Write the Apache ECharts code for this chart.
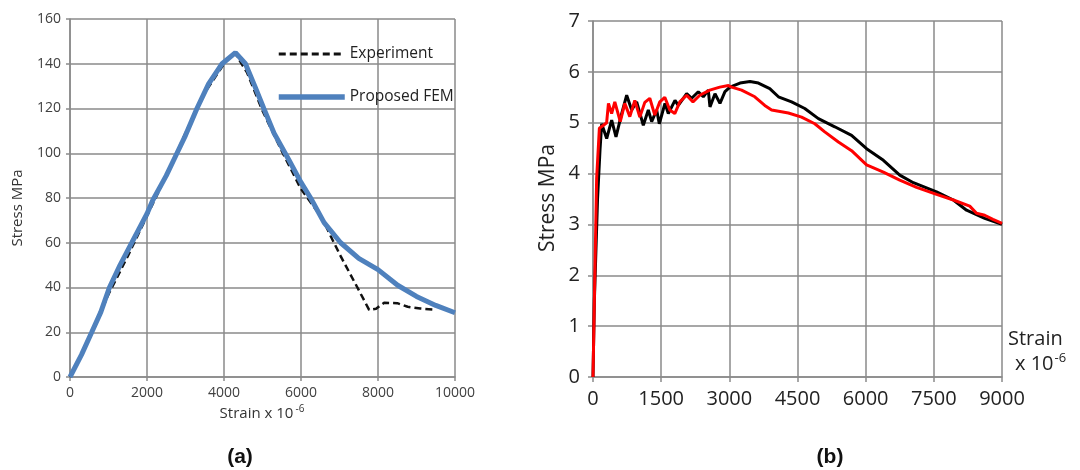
<!DOCTYPE html>
<html>
<head>
<meta charset="utf-8">
<title>Stress-strain</title>
<script src="https://cdn.jsdelivr.net/npm/echarts@6/dist/echarts.min.js"></script>
<style>
  html, body { margin: 0; padding: 0; background: #fff; }
  #main { width: 1080px; height: 470px; }
</style>
</head>
<body>
<div id="main"></div>
<script>
// (a) strain x 1e-6 / stress MPa
var expStrain = [0, 500, 1000, 1500, 2000, 2500, 3000, 3500, 4000, 4280, 4600, 5000, 5500, 6000, 6550, 6770, 7030, 7465, 7770, 7950, 8160, 8500, 8770, 9100, 9420];
var expStress = [0, 17, 37, 54, 72, 90, 109, 127, 140, 145, 136, 119, 101, 84, 71, 63, 54, 40, 30, 30.5, 33.2, 33, 31.4, 30.6, 30.2];
var femStrain = [0, 300, 564, 800, 1024, 1300, 1605, 2000, 2150, 2500, 2778, 3000, 3297, 3600, 3950, 4297, 4557, 4800, 5034, 5300, 5686, 6000, 6250, 6600, 7030, 7500, 8000, 8510, 9000, 9500, 10000];
var femStress = [0, 10, 20, 29, 40, 50, 60, 73, 79, 90, 100, 108, 120, 131, 140, 145, 140, 130, 120, 109, 97, 87, 80, 69, 60, 53, 48, 41, 36, 32, 28.7];

// (b)
var blackStrain = [0, 30, 100, 154, 191, 301, 411, 506, 631, 741, 851, 961, 1107, 1217, 1291, 1401, 1459, 1584, 1657, 1804, 1877, 2061, 2171, 2317, 2427, 2537, 2574, 2684, 2794, 2904, 3014, 3234, 3454, 3640, 3890, 4080, 4370, 4660, 4960, 5320, 5690, 6020, 6390, 6750, 7050, 7560, 7930, 8220, 8620, 9000];
var blackStress = [0, 1.5, 3.5, 4.46, 4.98, 4.69, 5.05, 4.72, 5.18, 5.54, 5.25, 5.41, 4.95, 5.25, 5.02, 5.25, 4.98, 5.38, 5.18, 5.44, 5.34, 5.57, 5.48, 5.61, 5.51, 5.64, 5.31, 5.57, 5.38, 5.61, 5.70, 5.78, 5.81, 5.78, 5.67, 5.51, 5.41, 5.28, 5.08, 4.92, 4.75, 4.49, 4.26, 3.97, 3.82, 3.64, 3.48, 3.28, 3.12, 3.0];
var redStrain = [0, 30, 80, 140, 230, 300, 340, 410, 480, 600, 700, 810, 920, 1030, 1140, 1250, 1360, 1470, 1580, 1690, 1800, 1910, 2060, 2200, 2350, 2570, 2790, 2980, 3050, 3270, 3560, 3780, 3930, 4300, 4590, 4880, 5100, 5400, 5690, 6020, 6390, 6750, 7120, 7560, 7930, 8290, 8440, 8620, 8800, 9000];
var redStress = [0, 1.5, 3.9, 4.89, 4.95, 5.0, 5.38, 5.18, 5.41, 5.02, 5.38, 5.12, 5.44, 5.11, 5.40, 5.48, 5.15, 5.41, 5.50, 5.25, 5.18, 5.41, 5.54, 5.41, 5.54, 5.64, 5.70, 5.73, 5.70, 5.64, 5.51, 5.34, 5.25, 5.19, 5.11, 4.98, 4.82, 4.62, 4.45, 4.17, 4.03, 3.87, 3.73, 3.59, 3.48, 3.36, 3.22, 3.18, 3.10, 3.02];

function pairs(xs, ys) {
  var out = [];
  for (var i = 0; i < xs.length; i++) out.push([xs[i], ys[i]]);
  return out;
}

var gridColor = '#8a8a8a';
var fontA = '"Open Sans", sans-serif';

function axisCommon(size, margin, color) {
  return {
    type: 'value',
    axisLine: { show: true, lineStyle: { color: gridColor, width: 1.5 } },
    axisTick: { show: true, length: 4, lineStyle: { color: gridColor, width: 1.5 } },
    splitLine: { show: true, lineStyle: { color: gridColor, width: 1.5 } },
    axisLabel: { fontFamily: fontA, fontSize: size, color: color, margin: margin,
      formatter: function (v) { return String(v); } }
  };
}

var xa = axisCommon(14, 9, '#404040');
xa.gridIndex = 0; xa.min = 0; xa.max = 10000; xa.interval = 2000;
var ya = axisCommon(14, 9, '#404040');
ya.gridIndex = 0; ya.min = 0; ya.max = 160; ya.interval = 20;
var xb = axisCommon(20, 12, '#222');
xb.gridIndex = 1; xb.min = 0; xb.max = 9000; xb.interval = 1500;
var yb = axisCommon(20, 13, '#222');
yb.gridIndex = 1; yb.min = 0; yb.max = 7; yb.interval = 1;
xb.axisTick.length = 5; yb.axisTick.length = 5;

var chart = echarts.init(document.getElementById('main'));
chart.setOption({
  animation: false,
  backgroundColor: '#fff',
  grid: [
    { left: 70, right: 625, top: 19, bottom: 93, containLabel: false },
    { left: 593, right: 78, top: 21, bottom: 93, containLabel: false }
  ],
  xAxis: [xa, xb],
  yAxis: [ya, yb],
  legend: {
    orient: 'vertical',
    left: 271, top: 41,
    itemWidth: 66, itemHeight: 14, itemGap: 27,
    itemStyle: { opacity: 0 },
    textStyle: { fontFamily: fontA, fontSize: 15.5, color: '#222' },
    data: [
      { name: 'Experiment', lineStyle: { color: '#111', width: 3, type: [7, 4] } },
      { name: 'Proposed FEM', lineStyle: { color: '#4f81bd', width: 5.5 } }
    ]
  },
  series: [
    {
      name: 'Experiment', type: 'line', xAxisIndex: 0, yAxisIndex: 0,
      symbol: 'none', data: pairs(expStrain, expStress),
      lineStyle: { color: '#111', width: 2.5, type: [7, 4] }, itemStyle: { color: '#111' }
    },
    {
      name: 'Proposed FEM', type: 'line', xAxisIndex: 0, yAxisIndex: 0,
      symbol: 'none', data: pairs(femStrain, femStress),
      lineStyle: { color: '#4f81bd', width: 5 }, itemStyle: { color: '#4f81bd' }
    },
    {
      name: 'black', type: 'line', xAxisIndex: 1, yAxisIndex: 1,
      symbol: 'none', data: pairs(blackStrain, blackStress),
      lineStyle: { color: '#000', width: 3 }
    },
    {
      name: 'red', type: 'line', xAxisIndex: 1, yAxisIndex: 1,
      symbol: 'none', data: pairs(redStrain, redStress),
      lineStyle: { color: '#ff0000', width: 3 }
    }
  ],
  graphic: [
    { type: 'text', x: 18, y: 208, rotation: Math.PI / 2,
      style: { text: 'Stress MPa', font: '15px ' + fontA, fill: '#333', align: 'center', verticalAlign: 'middle' } },
    { type: 'text', x: 262, y: 414,
      style: { text: '{b|Strain x 10}{s|-6}', align: 'center', verticalAlign: 'middle', fill: '#333',
        rich: { b: { fontFamily: fontA, fontSize: 15, lineHeight: 20 },
                s: { fontFamily: fontA, fontSize: 10, lineHeight: 20, padding: [0, 0, 9, 2] } } } },
    { type: 'text', x: 548, y: 198, rotation: Math.PI / 2,
      style: { text: 'Stress MPa', font: '21px ' + fontA, fill: '#222', align: 'center', verticalAlign: 'middle' } },
    { type: 'text', x: 1008, y: 339,
      style: { text: 'Strain', font: '20px ' + fontA, fill: '#222', align: 'left', verticalAlign: 'middle' } },
    { type: 'text', x: 1015, y: 364,
      style: { text: '{b|x 10}{s|-6}', align: 'left', verticalAlign: 'middle', fill: '#222',
        rich: { b: { fontFamily: fontA, fontSize: 20, lineHeight: 24 },
                s: { fontFamily: fontA, fontSize: 13, lineHeight: 24, padding: [0, 0, 12, 1] } } } },
    { type: 'text', x: 240, y: 457,
      style: { text: '(a)', font: 'bold 21px "Liberation Sans", Arial, sans-serif', fill: '#111', align: 'center', verticalAlign: 'middle' } },
    { type: 'text', x: 830, y: 457,
      style: { text: '(b)', font: 'bold 21px "Liberation Sans", Arial, sans-serif', fill: '#111', align: 'center', verticalAlign: 'middle' } }
  ]
});
</script>
</body>
</html>
